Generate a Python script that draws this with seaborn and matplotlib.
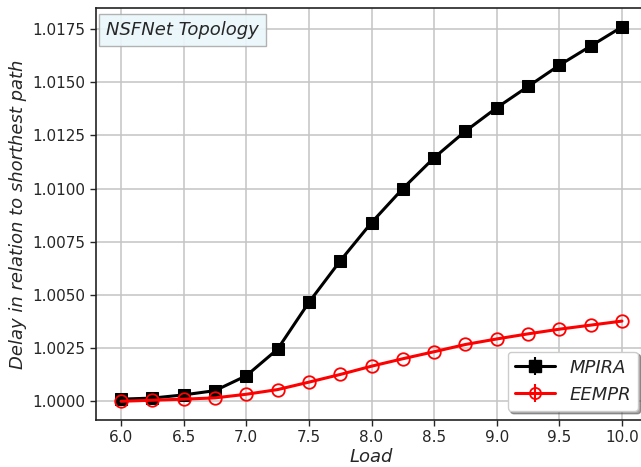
import matplotlib
matplotlib.use("Agg")
import matplotlib.pyplot as plt
import seaborn as sns
import pandas as pd

load = [6.0, 6.25, 6.5, 6.75, 7.0, 7.25, 7.5, 7.75, 8.0, 8.25, 8.5, 8.75, 9.0, 9.25, 9.5, 9.75, 10.0]
mpira = [1.0001, 1.00015, 1.0003, 1.0005, 1.0012, 1.00245, 1.00465, 1.0066, 1.0084, 1.0100,
         1.01145, 1.0127, 1.0138, 1.0148, 1.0158, 1.0167, 1.0176]
eempr = [1.0000, 1.00005, 1.0001, 1.00016, 1.00033, 1.00055, 1.0009, 1.00126, 1.00165, 1.0020,
         1.00233, 1.00267, 1.00293, 1.00317, 1.00339, 1.00358, 1.00377]
series_names = ["MPIRA", "EEMPR"]
xticks = [6.0, 6.5, 7.0, 7.5, 8.0, 8.5, 9.0, 9.5, 10.0]
yticks = [1.0000, 1.0025, 1.0050, 1.0075, 1.0100, 1.0125, 1.0150, 1.0175]

sns.set_style("ticks", {"axes.grid": True, "grid.color": "#c4c4c4", "axes.edgecolor": "#222222"})
plt.rcParams["font.family"] = ["DejaVu Sans"]

df = pd.DataFrame({"Load": load * 2,
                   "Delay": mpira + eempr,
                   "Method": [series_names[0]] * len(load) + [series_names[1]] * len(load)})

fig = plt.figure(figsize=(6.41, 4.67), dpi=100)
ax = fig.add_axes([96 / 641, 1 - 420 / 467, 551 / 641, 412 / 467])

sns.lineplot(data=df[df.Method == "MPIRA"], x="Load", y="Delay", ax=ax, color="black",
             marker="s", markersize=9, markeredgecolor="black", linewidth=2.2, legend=False)
sns.lineplot(data=df[df.Method == "EEMPR"], x="Load", y="Delay", ax=ax, color="red",
             marker="o", markersize=9, markerfacecolor="none", markeredgecolor="red",
             markeredgewidth=1.3, linewidth=2.2, legend=False)

h1 = ax.errorbar([], [], yerr=[], color="black", marker="s", markersize=8, linewidth=2.2,
                 capsize=4, elinewidth=1.5, capthick=1.5)
h2 = ax.errorbar([], [], yerr=[], color="red", marker="o", markersize=8, markerfacecolor="none",
                 markeredgewidth=1.3, linewidth=2.2, capsize=4, elinewidth=1.5, capthick=1.5)

ax.set_xlim(5.8, 10.2)
ax.set_ylim(0.99912, 1.01849)
ax.set_xticks(xticks)
ax.set_yticks(yticks)
ax.set_xticklabels([f"{v:.1f}" for v in xticks])
ax.set_yticklabels([f"{v:.4f}" for v in yticks])
ax.tick_params(labelsize=11, length=4, width=1)
ax.grid(True, color="#c4c4c4", linewidth=1.1)

ax.set_xlabel("Load", fontsize=13, fontstyle="italic", labelpad=2)
ax.set_ylabel("Delay in relation to shorthest path", fontsize=13, fontstyle="italic")

ax.legend([h1, h2], series_names, loc="lower right", shadow=True,
          prop={"style": "italic", "size": 13}, handlelength=2.2, borderaxespad=0.5)

ax.text(0.018, 0.947, "NSFNet Topology", transform=ax.transAxes, fontsize=13,
        fontstyle="italic", va="center", ha="left",
        bbox=dict(boxstyle="square,pad=0.4", facecolor="#eaf7fb", edgecolor="#aaaaaa", alpha=0.9))

for s in ax.spines.values():
    s.set_linewidth(1.2)

fig.savefig("out.png", dpi=100)
